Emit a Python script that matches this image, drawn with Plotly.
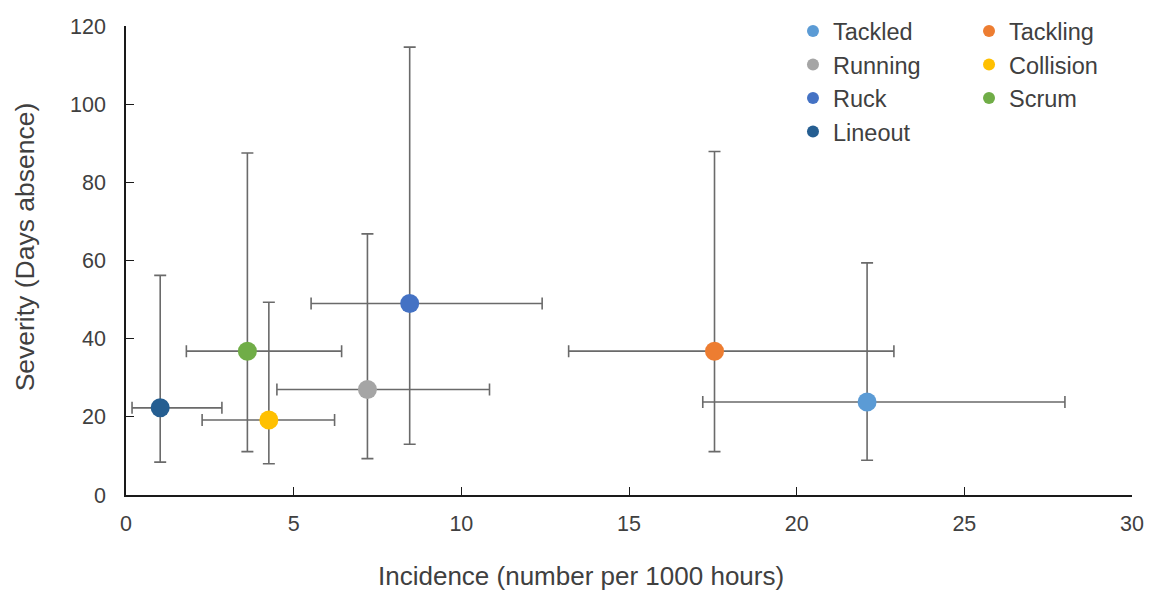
import plotly.graph_objects as go

# ---- data ----
mechanisms = ["Tackled", "Tackling", "Running", "Collision", "Ruck", "Scrum", "Lineout"]
incidence = [22.1, 17.55, 7.2, 4.26, 8.46, 3.62, 1.02]
incidence_low = [17.2, 13.2, 4.5, 2.27, 5.52, 1.8, 0.18]
incidence_high = [28.0, 22.9, 10.84, 6.22, 12.41, 6.43, 2.86]
severity = [23.8, 36.8, 27.0, 19.2, 49.0, 36.8, 22.3]
severity_low = [8.9, 11.1, 9.3, 8.0, 13.0, 11.1, 8.4]
severity_high = [59.4, 87.9, 66.8, 49.3, 114.6, 87.5, 56.2]
colors = ["#5B9BD5", "#ED7D31", "#A5A5A5", "#FFC000", "#4472C4", "#70AD47", "#255E91"]
legend_group = ["legend", "legend2", "legend", "legend2", "legend", "legend2", "legend"]

x_ticks = [0, 5, 10, 15, 20, 25, 30]
y_ticks = [0, 20, 40, 60, 80, 100, 120]
x_title = "Incidence (number per 1000 hours)"
y_title = "Severity (Days absence)"

FONT = "Liberation Sans, Arial, sans-serif"
TXT = "#404040"
ERR = "#6a6a6a"

fig = go.Figure()
for i, name in enumerate(mechanisms):
    fig.add_trace(go.Scatter(
        x=[incidence[i]], y=[severity[i]], mode="markers", name=name,
        legend=legend_group[i],
        marker=dict(size=19, color=colors[i]),
        error_x=dict(type="data", symmetric=False,
                     array=[incidence_high[i] - incidence[i]],
                     arrayminus=[incidence[i] - incidence_low[i]],
                     color=ERR, thickness=1.6, width=6),
        error_y=dict(type="data", symmetric=False,
                     array=[severity_high[i] - severity[i]],
                     arrayminus=[severity[i] - severity_low[i]],
                     color=ERR, thickness=1.6, width=6),
    ))

legend_common = dict(
    font=dict(family=FONT, size=23.5, color=TXT),
    bgcolor="rgba(0,0,0,0)", itemsizing="constant",
    orientation="v", yanchor="top", xanchor="left",
    itemclick=False, itemdoubleclick=False,
)

fig.update_layout(
    width=1151, height=592,
    margin=dict(l=126, r=19, t=26, b=97, autoexpand=False),
    paper_bgcolor="white", plot_bgcolor="white",
    font=dict(family=FONT, color=TXT),
    showlegend=True,
    legend=dict(x=0.663, y=1.036, **legend_common),
    legend2=dict(x=0.838, y=1.036, **legend_common),
    xaxis=dict(
        range=[0, 30], tickvals=x_ticks, ticktext=[str(v) for v in x_ticks],
        showgrid=False, zeroline=False, showline=True, linecolor="#1a1a1a", linewidth=1.5,
        ticks="inside", ticklen=8, tickcolor="#1a1a1a", tickwidth=1.3,
        tickfont=dict(family=FONT, size=21.5, color=TXT), ticklabelstandoff=8,
    ),
    yaxis=dict(
        range=[0, 120], tickvals=y_ticks, ticktext=[str(v) for v in y_ticks],
        showgrid=False, zeroline=False, showline=True, linecolor="#1a1a1a", linewidth=1.5,
        ticks="inside", ticklen=8, tickcolor="#1a1a1a", tickwidth=1.3,
        tickfont=dict(family=FONT, size=21.5, color=TXT), ticklabelstandoff=14,
    ),
    annotations=[
        dict(text=x_title, xref="paper", yref="paper", x=0.4525, y=0,
             xanchor="center", yanchor="middle", yshift=-81, showarrow=False,
             font=dict(family=FONT, size=26, color=TXT)),
        dict(text=y_title, xref="paper", yref="paper", x=0, y=0.528,
             xanchor="center", yanchor="middle", xshift=-101, textangle=-90,
             showarrow=False, font=dict(family=FONT, size=26.5, color=TXT)),
    ],
)

fig.write_html("out.html")
